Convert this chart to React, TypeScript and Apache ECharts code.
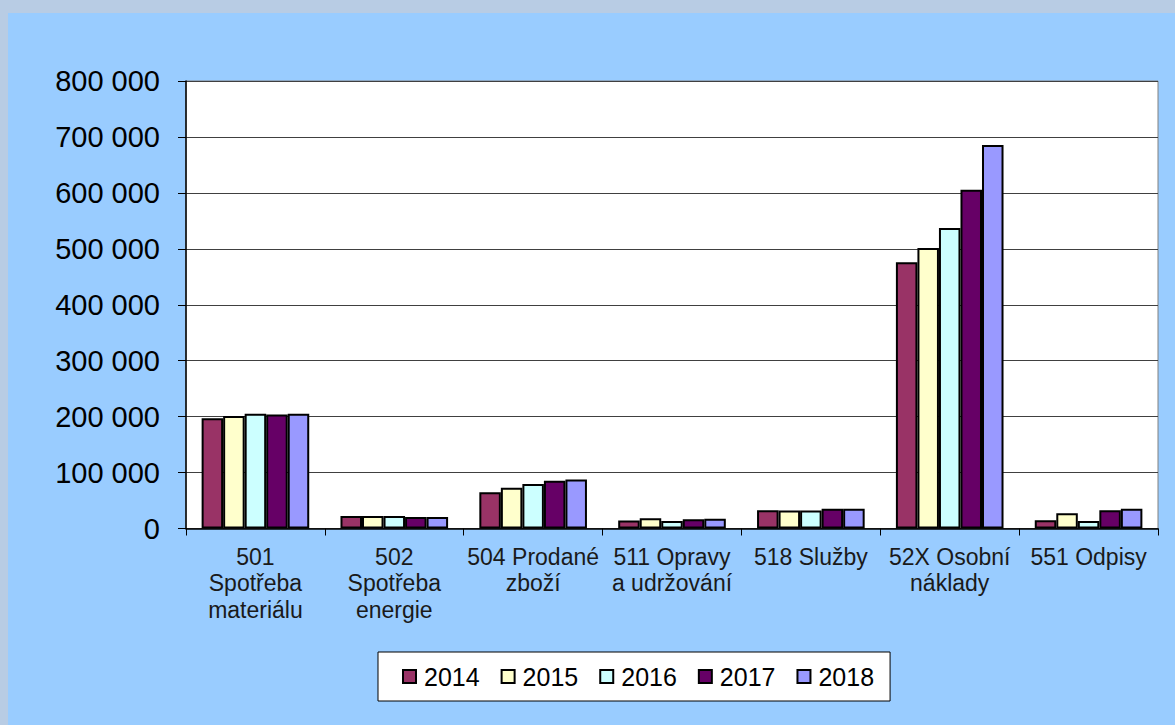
import React, { useEffect, useRef } from "react";
import * as echarts from "echarts";

const categories = [
  "501\nSpotřeba\nmateriálu",
  "502\nSpotřeba\nenergie",
  "504 Prodané\nzboží",
  "511 Opravy\na udržování",
  "518 Služby",
  "52X Osobní\nnáklady",
  "551 Odpisy",
];
const years = ["2014", "2015", "2016", "2017", "2018"];
const colors = ["#993366", "#FFFFCC", "#CCFFFF", "#660066", "#9999FF"];
const v2014 = [197000, 22300, 64600, 14300, 32500, 476000, 14600];
const v2015 = [201000, 22300, 72900, 18200, 32000, 501500, 27100];
const v2016 = [205000, 22300, 79500, 13500, 32000, 537000, 13400];
const v2017 = [204000, 20500, 85400, 16400, 35400, 605700, 32500];
const v2018 = [205000, 20500, 87800, 17500, 35400, 685400, 35400];
const seriesValues = [v2014, v2015, v2016, v2017, v2018];

const fmt = (v: number) =>
  String(Math.round(v)).replace(/\B(?=(\d{3})+(?!\d))/g, " ");

export default function App() {
  const ref = useRef<HTMLDivElement>(null);
  useEffect(() => {
    if (!ref.current) return;
    const chart = echarts.init(ref.current, undefined, { renderer: "svg" });
    chart.setOption({
      animation: false,
      backgroundColor: "#99CCFF",
      textStyle: { fontFamily: "Liberation Sans, Arial, sans-serif" },
      grid: {
        left: 178,
        top: 68,
        right: 17,
        bottom: 196.5,
        show: true,
        backgroundColor: "#FFFFFF",
        borderColor: "#808080",
        borderWidth: 1,
      },
      legend: {
        left: 370,
        top: 639,
        data: years.map((y) => ({ name: y, icon: "rect" })),
        backgroundColor: "#FFFFFF",
        borderColor: "#000000",
        borderWidth: 1,
        padding: [12, 16, 12, 24],
        itemWidth: 13,
        itemHeight: 13,
        itemGap: 21,
        itemStyle: { borderColor: "#000", borderWidth: 2 },
        textStyle: {
          fontSize: 25,
          color: "#000",
          fontFamily: "Liberation Sans, Arial, sans-serif",
          padding: [0, 0, 0, 3],
        },
      },
      xAxis: {
        type: "category",
        data: categories,
        axisLine: { lineStyle: { color: "#000", width: 1.5 } },
        axisTick: { show: true, length: 7, lineStyle: { color: "#000" } },
        axisLabel: {
          interval: 0,
          fontSize: 23,
          lineHeight: 26.5,
          color: "#1a1a1a",
          margin: 15,
          fontFamily: "Liberation Sans, Arial, sans-serif",
        },
      },
      yAxis: {
        type: "value",
        min: 0,
        max: 800000,
        interval: 100000,
        axisLine: { show: true, lineStyle: { color: "#000", width: 1.5 } },
        axisTick: { show: true, length: 8, lineStyle: { color: "#000" } },
        splitLine: { lineStyle: { color: "#404040", width: 1 } },
        axisLabel: {
          fontSize: 29,
          color: "#000",
          margin: 26,
          formatter: (v: number) => fmt(v),
          fontFamily: "Liberation Sans, Arial, sans-serif",
        },
      },
      series: years.map((y, i) => ({
        name: y,
        type: "bar",
        data: seriesValues[i],
        barGap: "0%",
        barCategoryGap: "22.5%",
        itemStyle: {
          color: colors[i],
          borderColor: "#000",
          borderWidth: 2,
        },
      })),
    });
    return () => chart.dispose();
  }, []);
  return (
    <div
      style={{
        position: "absolute",
        left: 0,
        top: 0,
        width: 1175,
        height: 725,
        background: "#B8CCE4",
        overflow: "hidden",
      }}
    >
      <div
        ref={ref}
        style={{ position: "absolute", left: 8, top: 13, width: 1167, height: 712 }}
      />
    </div>
  );
}
